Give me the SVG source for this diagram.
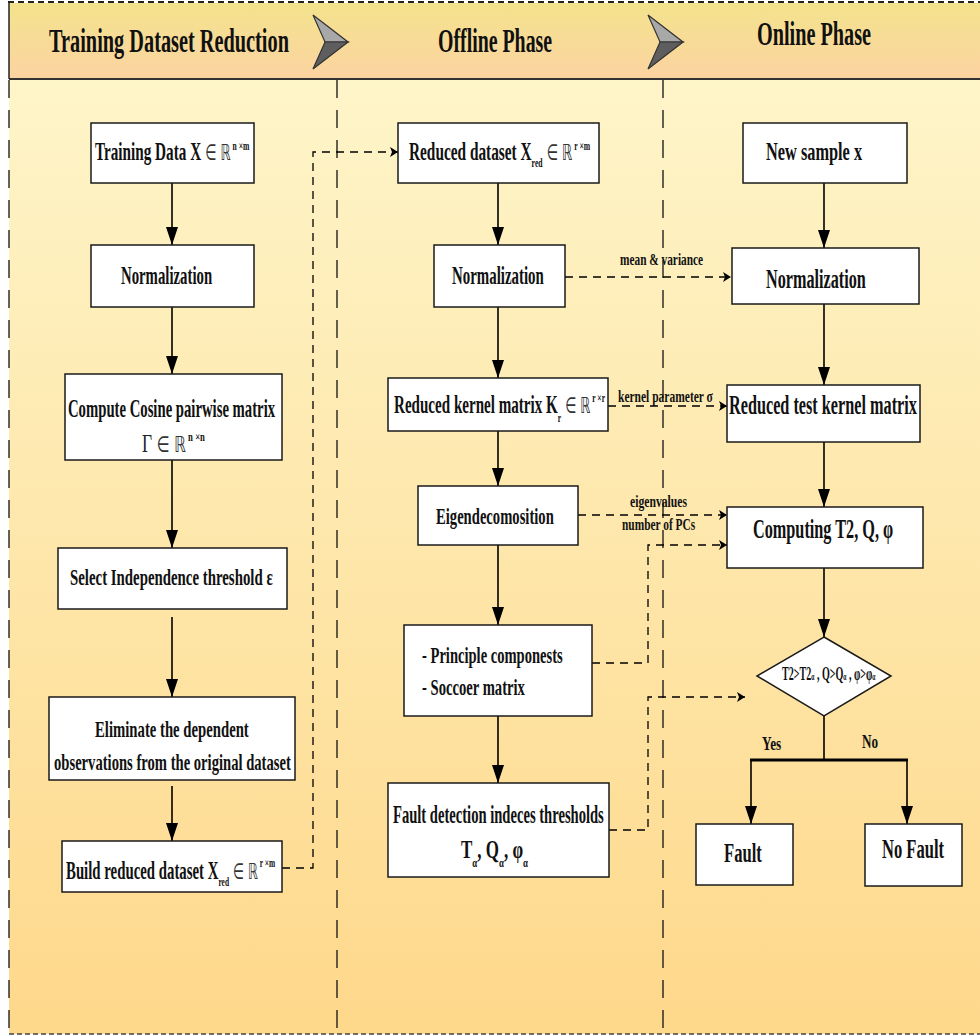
<svg xmlns="http://www.w3.org/2000/svg" width="980" height="1036" viewBox="0 0 980 1036">
<defs>
<linearGradient id="hg" x1="0" y1="0" x2="0" y2="1"><stop offset="0" stop-color="#f3e38c"/><stop offset="1" stop-color="#fcd3a2"/></linearGradient>
<linearGradient id="bg" x1="0" y1="0" x2="0" y2="1"><stop offset="0" stop-color="#fef5c9"/><stop offset="1" stop-color="#fed88b"/></linearGradient>
<marker id="a" viewBox="0 0 18 12" refX="18" refY="6" markerWidth="18" markerHeight="12" orient="auto" markerUnits="userSpaceOnUse"><path d="M0,0 L18,6 L0,12 z" fill="#000"/></marker>
<marker id="s" viewBox="0 0 8 10" refX="8" refY="5" markerWidth="8" markerHeight="10" orient="auto" markerUnits="userSpaceOnUse"><path d="M0,0 L8,5 L0,10 L2,5 z" fill="#000"/></marker>
<style>
.b{fill:#fff;stroke:#1a1a1a;stroke-width:1.5}
.t{font-family:"Liberation Serif","Times New Roman",serif;font-weight:bold;fill:#111}
.h{font-family:"Liberation Serif","Times New Roman",serif;font-weight:bold;fill:#111;font-size:34px}
.m{font-family:"DejaVu Sans",sans-serif;font-weight:normal;fill:#333;font-size:22px}
.g{font-family:"Liberation Serif",serif;font-weight:normal;fill:#222}
.c{stroke:#000;stroke-width:1.6;fill:none}
.d{stroke:#000;stroke-width:1.3;fill:none;stroke-dasharray:8 6}
.v{stroke:#111;stroke-width:1.3;fill:none;stroke-dasharray:18 12}
</style>
</defs>
<g id="background">
<rect x="9" y="79" width="971" height="955" fill="url(#bg)"/>
<rect x="9" y="3" width="971" height="76" fill="url(#hg)"/>
<line x1="8" y1="2" x2="980" y2="2" stroke="#222" stroke-width="2" stroke-dasharray="6 4"/>
<line x1="9" y1="3" x2="9" y2="79" stroke="#222" stroke-width="1.5"/>
<line x1="9" y1="79" x2="980" y2="79" stroke="#333" stroke-width="2"/>
<line x1="9" y1="80" x2="9" y2="1034" class="v"/>
<line x1="337" y1="80" x2="337" y2="1034" class="v"/>
<line x1="663" y1="80" x2="663" y2="1034" class="v"/>
<line x1="9" y1="1034" x2="980" y2="1034" stroke="#444" stroke-width="1.5" stroke-dasharray="5 3"/>
</g>
<g id="header">
<text class="h" transform="translate(49 52) scale(0.62 1)" textLength="387" lengthAdjust="spacingAndGlyphs">Training Dataset Reduction</text>
<text class="h" transform="translate(438 52) scale(0.62 1)" textLength="184" lengthAdjust="spacingAndGlyphs">Offline Phase</text>
<text class="h" transform="translate(757 45) scale(0.62 1)" textLength="184" lengthAdjust="spacingAndGlyphs">Online Phase</text>
<g id="chev1" stroke="#333" stroke-width="1.2">
<polygon points="313,15 348,42 325,42" fill="#a8a8a8"/>
<polygon points="325,42 348,42 313,69" fill="#5e5e5e"/>
</g>
<g id="chev2" stroke="#333" stroke-width="1.2">
<polygon points="648,15 683,42 660,42" fill="#a8a8a8"/>
<polygon points="660,42 683,42 648,69" fill="#5e5e5e"/>
</g>
</g>
<g id="connectors">
<line class="c" x1="172" y1="183" x2="172" y2="245" marker-end="url(#a)"/>
<line class="c" x1="172" y1="307" x2="172" y2="374" marker-end="url(#a)"/>
<line class="c" x1="172" y1="460" x2="172" y2="548" marker-end="url(#a)"/>
<line class="c" x1="172" y1="617" x2="172" y2="697" marker-end="url(#a)"/>
<line class="c" x1="172" y1="786" x2="172" y2="841" marker-end="url(#a)"/>
<line class="c" x1="498" y1="183" x2="498" y2="245" marker-end="url(#a)"/>
<line class="c" x1="498" y1="307" x2="498" y2="378" marker-end="url(#a)"/>
<line class="c" x1="498" y1="431" x2="498" y2="486" marker-end="url(#a)"/>
<line class="c" x1="498" y1="545" x2="498" y2="625" marker-end="url(#a)"/>
<line class="c" x1="498" y1="716" x2="498" y2="783" marker-end="url(#a)"/>
<line class="c" x1="824" y1="183" x2="824" y2="248" marker-end="url(#a)"/>
<line class="c" x1="824" y1="304" x2="824" y2="385" marker-end="url(#a)"/>
<line class="c" x1="824" y1="442" x2="824" y2="507" marker-end="url(#a)"/>
<line class="c" x1="824" y1="568" x2="824" y2="637" marker-end="url(#a)"/>
<line class="c" x1="824" y1="716" x2="824" y2="760"/>
<line x1="750" y1="760" x2="908" y2="760" stroke="#000" stroke-width="3"/>
<line class="c" x1="751" y1="760" x2="751" y2="824" stroke-width="2.5" marker-end="url(#a)"/>
<line class="c" x1="907" y1="760" x2="907" y2="824" stroke-width="2.5" marker-end="url(#a)"/>
<polyline class="d" points="282,868 313,868 313,152 398,152" marker-end="url(#s)"/>
<line class="d" x1="565" y1="277" x2="731" y2="277" marker-end="url(#s)"/>
<line class="d" x1="608" y1="406" x2="727" y2="406" marker-end="url(#s)"/>
<line class="d" x1="578" y1="515" x2="727" y2="515" marker-end="url(#s)"/>
<polyline class="d" points="592,663 648,663 648,545 727,545" marker-end="url(#s)"/>
<polyline class="d" points="609,830 648,830 648,697 745,697" marker-end="url(#s)"/>
<text class="t" font-size="17" transform="translate(620 265) scale(0.62 1)" textLength="134" lengthAdjust="spacingAndGlyphs">mean &amp; variance</text>
<text class="t" font-size="17" transform="translate(618 402) scale(0.62 1)" textLength="153" lengthAdjust="spacingAndGlyphs">kernel parameter σ</text>
<text class="t" font-size="17" transform="translate(630 507) scale(0.62 1)" textLength="92" lengthAdjust="spacingAndGlyphs">eigenvalues</text>
<text class="t" font-size="17" transform="translate(622 530) scale(0.62 1)" textLength="118" lengthAdjust="spacingAndGlyphs">number of PCs</text>
<text class="t" font-size="18" transform="translate(762 750) scale(0.62 1)" textLength="31" lengthAdjust="spacingAndGlyphs">Yes</text>
<text class="t" font-size="18" transform="translate(862 748) scale(0.62 1)" textLength="26" lengthAdjust="spacingAndGlyphs">No</text>
</g>
<g id="n1">
<rect class="b" x="91" y="123" width="163" height="60"/>
<text class="t" font-size="26" transform="translate(95 160) scale(0.585 1)">Training Data X<tspan class="m"> ∈ ℝ</tspan><tspan font-size="13" dy="-10"> n ×m</tspan></text>
</g>
<g id="n2">
<rect class="b" x="91" y="245" width="163" height="62"/>
<text class="t" font-size="26" transform="translate(121 284) scale(0.62 1)" textLength="147" lengthAdjust="spacingAndGlyphs">Normalization</text>
</g>
<g id="n3">
<rect class="b" x="65" y="374" width="217" height="86"/>
<text class="t" font-size="26" transform="translate(68 417) scale(0.62 1)" textLength="334" lengthAdjust="spacingAndGlyphs">Compute Cosine pairwise matrix</text>
<text class="t" font-size="26" transform="translate(142 452) scale(0.67 1)"><tspan class="g">Γ</tspan><tspan class="m"> ∈ ℝ</tspan><tspan font-size="13" dy="-11"> n ×n</tspan></text>
</g>
<g id="n4">
<rect class="b" x="58" y="548" width="229" height="61"/>
<text class="t" font-size="24" transform="translate(70 585) scale(0.62 1)" textLength="327" lengthAdjust="spacingAndGlyphs">Select Independence threshold ε</text>
</g>
<g id="n5">
<rect class="b" x="49" y="697" width="246" height="83"/>
<text class="t" font-size="24" transform="translate(95 737) scale(0.62 1)" textLength="248" lengthAdjust="spacingAndGlyphs">Eliminate the dependent</text>
<text class="t" font-size="24" transform="translate(54 770) scale(0.62 1)" textLength="382" lengthAdjust="spacingAndGlyphs">observations from the original dataset</text>
</g>
<g id="n6">
<rect class="b" x="62" y="841" width="220" height="51"/>
<text class="t" font-size="26" transform="translate(66 879) scale(0.57 1)">Build reduced dataset X<tspan font-size="13" dy="7">red</tspan><tspan class="m" dy="-7"> ∈ ℝ</tspan><tspan font-size="13" dy="-12"> r ×m</tspan></text>
</g>
<g id="n7">
<rect class="b" x="398" y="123" width="201" height="60"/>
<text class="t" font-size="26" transform="translate(409 160) scale(0.59 1)">Reduced dataset X<tspan font-size="13" dy="7">red</tspan><tspan class="m" dy="-7"> ∈ ℝ</tspan><tspan font-size="13" dy="-10"> r ×m</tspan></text>
</g>
<g id="n8">
<rect class="b" x="434" y="245" width="131" height="62"/>
<text class="t" font-size="26" transform="translate(452 284) scale(0.62 1)" textLength="148" lengthAdjust="spacingAndGlyphs">Normalization</text>
</g>
<g id="n9">
<rect class="b" x="388" y="378" width="220" height="53"/>
<text class="t" font-size="26" transform="translate(394 413) scale(0.58 1)">Reduced kernel matrix K<tspan font-size="13" dy="9">r</tspan><tspan class="m" dy="-9"> ∈ ℝ</tspan><tspan font-size="13" dy="-11"> r ×r</tspan></text>
</g>
<g id="n10">
<rect class="b" x="418" y="486" width="160" height="59"/>
<text class="t" font-size="24" transform="translate(436 524) scale(0.62 1)" textLength="190" lengthAdjust="spacingAndGlyphs">Eigendecomosition</text>
</g>
<g id="n11">
<rect class="b" x="404" y="625" width="188" height="91"/>
<text class="t" font-size="24" transform="translate(422 663) scale(0.62 1)" textLength="227" lengthAdjust="spacingAndGlyphs">- Principle componests</text>
<text class="t" font-size="24" transform="translate(422 695) scale(0.62 1)" textLength="166" lengthAdjust="spacingAndGlyphs">- Soccoer matrix</text>
</g>
<g id="n12">
<rect class="b" x="388" y="783" width="221" height="94"/>
<text class="t" font-size="25" transform="translate(393 823) scale(0.62 1)" textLength="340" lengthAdjust="spacingAndGlyphs">Fault detection indeces thresholds</text>
<text class="t" font-size="25" transform="translate(461 858) scale(0.68 1)">T<tspan font-size="13" dy="9">α</tspan><tspan dy="-9">, Q</tspan><tspan font-size="13" dy="9">α</tspan><tspan dy="-9">, φ</tspan><tspan font-size="13" dy="9">α</tspan></text>
</g>
<g id="n13">
<rect class="b" x="743" y="123" width="164" height="60"/>
<text class="t" font-size="26" transform="translate(766 160) scale(0.62 1)" textLength="155" lengthAdjust="spacingAndGlyphs">New sample x</text>
</g>
<g id="n14">
<rect class="b" x="732" y="248" width="187" height="56"/>
<text class="t" font-size="28" transform="translate(766 288) scale(0.62 1)" textLength="161" lengthAdjust="spacingAndGlyphs">Normalization</text>
</g>
<g id="n15">
<rect class="b" x="727" y="385" width="193" height="57"/>
<text class="t" font-size="27" transform="translate(729 414) scale(0.62 1)" textLength="303" lengthAdjust="spacingAndGlyphs">Reduced test kernel matrix</text>
</g>
<g id="n16">
<rect class="b" x="727" y="507" width="196" height="61"/>
<text class="t" font-size="27" transform="translate(753 538) scale(0.62 1)" textLength="226" lengthAdjust="spacingAndGlyphs">Computing T2, Q, φ</text>
</g>
<g id="n17">
<polygon class="b" points="824,637 891,676 824,716 757,676"/>
<text class="t" font-size="18" transform="translate(782 680) scale(0.56 1)">T2&gt;T2<tspan font-size="10">α</tspan> , Q&gt;Q<tspan font-size="10">α</tspan> , φ&gt;φ<tspan font-size="10">α</tspan></text>
</g>
<g id="n18">
<rect class="b" x="696" y="824" width="97" height="61"/>
<text class="t" font-size="27" transform="translate(724 862) scale(0.62 1)" textLength="61" lengthAdjust="spacingAndGlyphs">Fault</text>
</g>
<g id="n19">
<rect class="b" x="865" y="824" width="97" height="62"/>
<text class="t" font-size="27" transform="translate(882 858) scale(0.62 1)" textLength="100" lengthAdjust="spacingAndGlyphs">No Fault</text>
</g>
</svg>
